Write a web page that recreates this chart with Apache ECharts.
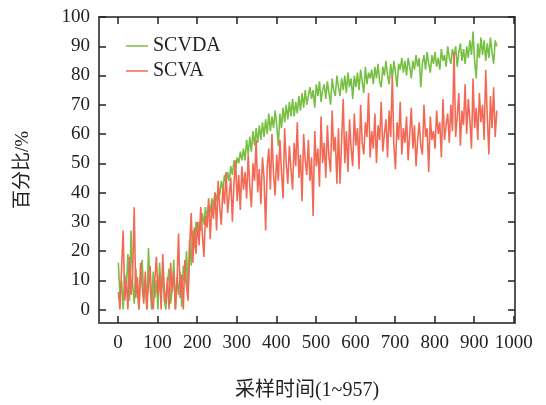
<!DOCTYPE html>
<html>
<head>
<meta charset="utf-8">
<script src="https://cdn.jsdelivr.net/npm/echarts@6/dist/echarts.min.js"></script>
<style>
  html, body { margin: 0; padding: 0; background: #fff; }
  #chart { width: 546px; height: 405px; }
</style>
</head>
<body>
<div id="chart"></div>
<script>
const sampleStart = 1
const sampleStep = 4

const scvda = [
  16, 4, 10, 0, 12, 7, 19, 3, 27, 9,
  2, 14, 6, 0, 11, 17, 5, 9, 0, 21,
  8, 0, 13, 4, 10, 0, 16, 6, 12, 3,
  0, 9, 14, 2, 7, 17, 0, 11, 5, 13,
  1, 15, 9, 20, 6, 24, 15, 27, 21, 30,
  25, 30, 27, 33, 29, 35, 31, 36, 33, 38,
  35, 40, 37, 42, 39, 44, 41, 46, 43, 47,
  44, 49, 46, 51, 48, 52, 50, 54, 51, 55,
  51, 58, 53, 59, 54, 61, 56, 62, 57, 63,
  58, 64, 59, 65, 60, 67, 61, 66, 62, 68,
  63, 56, 67, 62, 69, 64, 70, 65, 71, 66,
  72, 66, 71, 67, 73, 68, 74, 69, 75, 70,
  70, 76, 72, 75, 69, 77, 73, 78, 71, 75,
  77, 72, 78, 74, 70, 79, 75, 73, 80, 76,
  73, 79, 75, 80, 74, 81, 76, 79, 72, 80,
  76, 81, 75, 82, 78, 74, 83, 77, 81, 79,
  82, 77, 83, 79, 84, 78, 76, 83, 80, 85,
  80, 77, 84, 79, 85, 81, 76, 84, 82, 86,
  81, 85, 80, 86, 83, 79, 85, 82, 87, 83,
  86, 76, 84, 87, 82, 88, 84, 81, 87, 84,
  88, 83, 86, 82, 89, 85, 87, 83, 90, 86,
  84, 89, 86, 90, 83, 88, 91, 85, 89, 84,
  90, 86, 92, 87, 95, 85, 79, 91, 86, 93,
  87, 92, 85, 91, 86, 93, 88, 84, 92, 90
]

const scva = [
  6, 0, 14, 27, 3, 10, 0, 18, 5, 12,
  35, 4, 11, 0, 16, 8, 2, 13, 0, 9,
  15, 3, 0, 10, 18, 5, 12, 0, 19, 7,
  2, 11, 0, 16, 6, 13, 0, 9, 26, 4,
  12, 0, 17, 8, 3, 21, 33, 16, 28, 19,
  30, 22, 35, 26, 18, 32, 28, 38, 24, 36,
  31, 40, 27, 44, 35, 29, 42, 36, 47, 33,
  39, 45, 30, 43, 51, 37, 46, 34, 49, 41,
  47, 38, 53, 42, 35, 50, 44, 58, 40, 48,
  36, 52, 45, 27, 49, 55, 41, 60, 46, 39,
  53, 44, 58, 47, 38, 62, 50, 43, 56, 48,
  41, 57, 49, 64, 45, 53, 37, 60, 51, 46,
  58, 44, 52, 32, 61, 49, 55, 42, 66, 50,
  57, 45, 63, 52, 47, 68, 54, 59, 43, 62,
  43, 58, 72, 50, 61, 47, 65, 55, 49, 67,
  56, 62, 48, 70, 57, 53, 64, 59, 74, 52,
  61, 55, 67, 50, 63, 58, 71, 54, 60, 65,
  52, 68, 59, 80, 56, 48, 64, 58, 71, 53,
  62, 57, 66, 51, 60, 69, 55, 63, 49, 58,
  64, 56, 53, 70, 59, 62, 47, 66, 58, 61,
  55, 68, 60, 64, 52, 72, 58, 63, 67, 57,
  70, 61, 88, 59, 66, 74, 56, 68, 63, 77,
  60, 72, 65, 55, 79, 62, 69, 58, 74, 64,
  70, 58, 82, 66, 53, 73, 62, 76, 59, 68
]

const xTicks = [0, 100, 200, 300, 400, 500, 600, 700, 800, 900, 1000]
const yTicks = [0, 10, 20, 30, 40, 50, 60, 70, 80, 90, 100]

const toPairs = arr => arr.map((v, i) => [sampleStart + i * sampleStep, v])

const FONT = '"Liberation Serif", "Noto Sans CJK SC", serif'
const AXIS_COLOR = '#555'

const chart = echarts.init(document.getElementById('chart'))

const baseX = {
  type: 'value',
  min: -48,
  max: 1003,
  splitLine: { show: false },
  axisLine: { onZero: false, lineStyle: { color: AXIS_COLOR, width: 2 } },
  axisTick: { inside: true, length: 7, customValues: xTicks, lineStyle: { color: '#222', width: 1.5 } }
}
const baseY = {
  type: 'value',
  min: -4.6,
  max: 100,
  splitLine: { show: false },
  axisLine: { onZero: false, lineStyle: { color: AXIS_COLOR, width: 2 } },
  axisTick: { inside: true, length: 7, customValues: yTicks, lineStyle: { color: '#222', width: 1.5 } }
}

chart.setOption({
  animation: false,
  textStyle: { fontFamily: FONT },
  grid: { left: 99, right: 31, top: 17, bottom: 82, outerBoundsMode: 'none' },
  legend: {
    orient: 'vertical',
    left: 121,
    top: 31,
    icon: 'rect',
    itemWidth: 22,
    itemHeight: 1.5,
    itemGap: 5,
    textStyle: { fontFamily: FONT, fontSize: 20, color: '#222' },
    data: ['SCVDA', 'SCVA']
  },
  xAxis: [
    {
      ...baseX,
      position: 'bottom',
      name: '采样时间(1~957)',
      nameLocation: 'middle',
      nameGap: 58,
      nameTextStyle: { fontFamily: FONT, fontSize: 20, color: '#222' },
      axisLabel: { customValues: xTicks, formatter: v => String(v), margin: 11, fontFamily: FONT, fontSize: 19, color: '#222' }
    },
    { ...baseX, position: 'top', axisLabel: { show: false } }
  ],
  yAxis: [
    {
      ...baseY,
      position: 'left',
      name: '百分比/%',
      nameLocation: 'middle',
      nameGap: 66,
      nameTextStyle: { fontFamily: FONT, fontSize: 19, color: '#222' },
      axisLabel: { customValues: yTicks, formatter: v => String(v), margin: 9, fontFamily: FONT, fontSize: 19, color: '#222' }
    },
    { ...baseY, position: 'right', axisLabel: { show: false } }
  ],
  series: [
    {
      name: 'SCVDA', type: 'line', symbol: 'none',
      data: toPairs(scvda),
      lineStyle: { color: '#78c043', width: 1.6 },
      itemStyle: { color: '#78c043' }
    },
    {
      name: 'SCVA', type: 'line', symbol: 'none',
      data: toPairs(scva),
      lineStyle: { color: '#f26a55', width: 1.6 },
      itemStyle: { color: '#f26a55' }
    }
  ]
})
</script>
</body>
</html>
